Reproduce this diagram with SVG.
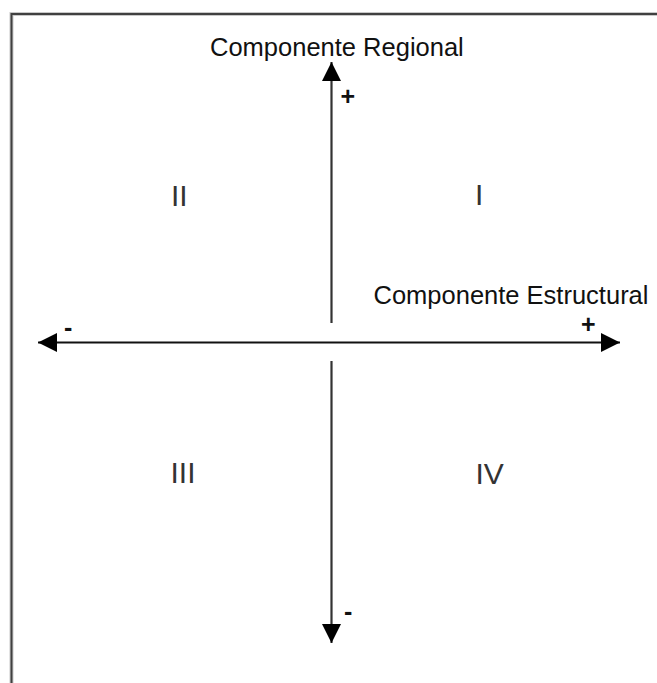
<svg xmlns="http://www.w3.org/2000/svg" width="657" height="683" viewBox="0 0 657 683">
<style>
.lbl{font-family:"Liberation Sans",Arial,sans-serif;font-size:25.5px;fill:#111}
.num{font-family:"Liberation Sans",Arial,sans-serif;font-size:30px;fill:#333}
.sgn{font-family:"Liberation Sans",Arial,sans-serif;font-size:25px;font-weight:bold;fill:#111}
.axis{stroke:#111;stroke-width:2;fill:none}
.vaxis{stroke:#333;stroke-width:2.2;fill:none}
</style>
<defs>
<marker id="ah" viewBox="0 0 10 10" refX="10" refY="5" markerUnits="userSpaceOnUse" markerWidth="19" markerHeight="19" orient="auto-start-reverse">
<path d="M0,0 L10,5 L0,10 Z" fill="#000"/>
</marker>
</defs>
<rect width="657" height="683" fill="#fff"/>
<g id="frame">
<path d="M11.5,683 V14 H657" fill="none" stroke="#c8c8c8" stroke-width="4"/>
<path d="M11.5,683 V14 H657" fill="none" stroke="#404040" stroke-width="2"/>
</g>
<g id="connectors">
<line class="vaxis" x1="331.5" y1="323" x2="331.5" y2="62" marker-end="url(#ah)"/>
<line class="vaxis" x1="331.5" y1="361" x2="331.5" y2="643" marker-end="url(#ah)"/>
<line class="axis" x1="38" y1="342.5" x2="620" y2="342.5" marker-start="url(#ah)" marker-end="url(#ah)"/>
</g>
<g id="label-regional"><text class="lbl" x="210" y="56">Componente Regional</text></g>
<g id="label-estructural"><text class="lbl" x="373.5" y="304">Componente Estructural</text></g>
<g id="sign-top"><text class="sgn" x="340.5" y="105">+</text></g>
<g id="sign-right"><text class="sgn" x="581" y="333">+</text></g>
<g id="sign-left"><text class="sgn" x="64" y="336">-</text></g>
<g id="sign-bottom"><text class="sgn" x="344" y="620">-</text></g>
<g id="q1"><text class="num" x="475" y="205">I</text></g>
<g id="q2"><text class="num" x="171" y="206">II</text></g>
<g id="q3"><text class="num" x="170.5" y="483">III</text></g>
<g id="q4"><text class="num" x="475.5" y="484">IV</text></g>
</svg>
